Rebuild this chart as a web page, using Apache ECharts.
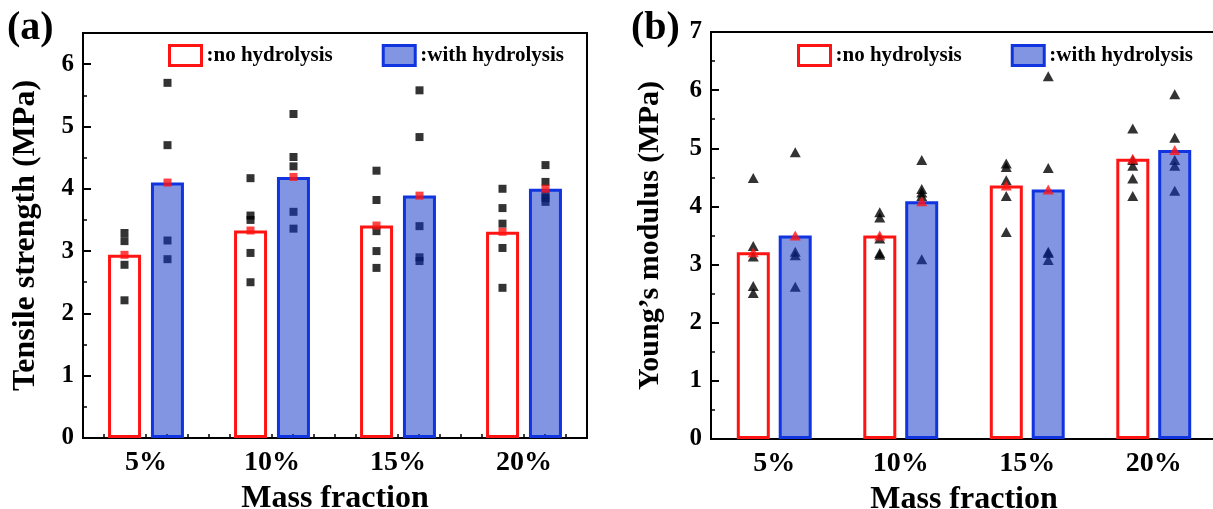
<!DOCTYPE html>
<html>
<head>
<meta charset="utf-8">
<script src="https://cdn.jsdelivr.net/npm/echarts@6/dist/echarts.min.js"></script>
<style>
  html, body { margin: 0; padding: 0; background: #fff; }
  #chart { width: 1213px; height: 509px; }
</style>
</head>
<body>
<div id="chart"></div>
<script>
// Mass fractions on the x axis
const categories = ['5%', '10%', '15%', '20%'];
const legendNames = [':no hydrolysis', ':with hydrolysis'];

// (a) Tensile strength, MPa: bar = mean, points = individual specimens
const tsNo = [2.94, 3.33, 3.41, 3.31];
const tsWith = [4.10, 4.19, 3.89, 4.00];
const tsNoPts = [
  [3.29, 3.16, 2.78, 2.21],
  [4.17, 3.57, 3.50, 2.97, 2.50],
  [4.29, 3.82, 3.32, 3.00, 2.73],
  [4.00, 3.69, 3.44, 3.05, 2.41]
];
const tsWithPts = [
  [5.70, 4.70, 3.17, 2.87],
  [5.20, 4.51, 4.36, 3.63, 3.36],
  [5.58, 4.83, 3.40, 2.90, 2.84],
  [4.38, 4.11, 3.90, 3.85, 3.79]
];

// (b) Young's modulus, MPa
const ymNo = [3.21, 3.50, 4.36, 4.82];
const ymWith = [3.50, 4.09, 4.29, 4.97];
const ymNoPts = [
  [4.49, 3.32, 3.14, 2.63, 2.51],
  [3.90, 3.81, 3.45, 3.20, 3.17],
  [4.74, 4.68, 4.45, 4.18, 3.56],
  [5.34, 4.80, 4.70, 4.48, 4.18]
];
const ymWithPts = [
  [4.93, 3.22, 3.16, 2.62],
  [4.80, 4.30, 4.24, 4.18, 3.09],
  [6.24, 4.66, 3.22, 3.20, 3.08],
  [5.93, 5.18, 4.80, 4.70, 4.27]
];

const FONT = '"Liberation Serif", "Times New Roman", serif';
const RED = '#ff1414';
const BLUE = '#1034e0';
const BLUE_FILL = 'rgba(16, 52, 200, 0.52)';
const BAR_W = 33;
const GAP_A = 10, GAP_B = 9;                  // pixels between paired bars
const OFF_A = (BAR_W + GAP_A) / 2;            // centre of each bar from category centre
const OFF_B = (BAR_W + GAP_B) / 2;

function points(groups) {
  const out = [];
  groups.forEach((g, i) => g.forEach(v => out.push([i, v])));
  return out;
}
function means(values) {
  return values.map((v, i) => [i, v]);
}

const boldText = (size) => ({ fontFamily: FONT, fontWeight: 'bold', fontSize: size, color: '#000' });

function categoryAxis(gridIndex) {
  return {
    type: 'category', gridIndex, data: categories,
    axisLine: { lineStyle: { color: '#000', width: 2 } },
    axisTick: { show: false },
    axisLabel: Object.assign(boldText(28), { margin: 11 }),
    name: 'Mass fraction', nameLocation: 'middle', nameGap: 45,
    nameTextStyle: boldText(32)
  };
}
function valueAxis(gridIndex, max, name, gap, nameSize) {
  return {
    type: 'value', gridIndex, min: 0, max, interval: 1,
    axisLine: { show: true, lineStyle: { color: '#000', width: 2 } },
    axisTick: { show: true, inside: true, length: 8, lineStyle: { color: '#000', width: 2 } },
    minorTick: { show: true, splitNumber: 2, length: 4, lineStyle: { color: '#000', width: 1.5 } },
    splitLine: { show: false },
    axisLabel: Object.assign(boldText(25), {
      margin: 9,
      formatter: v => (Number.isInteger(v) ? String(v) : '')
    }),
    name, nameLocation: 'middle', nameGap: gap,
    nameTextStyle: boldText(nameSize)
  };
}

function panelSeries(xi, yi, noVals, withVals, noPts, withPts, symbol, size, off, gapPct) {
  return [
    {
      type: 'bar', name: legendNames[0], xAxisIndex: xi, yAxisIndex: yi, data: noVals,
      barWidth: BAR_W, barGap: gapPct, z: 1,
      itemStyle: { color: '#ffffff', borderColor: RED, borderWidth: 3 }
    },
    {
      type: 'bar', name: legendNames[1], xAxisIndex: xi, yAxisIndex: yi, data: withVals,
      barWidth: BAR_W, barGap: gapPct, z: 3,
      itemStyle: { color: BLUE_FILL, borderColor: BLUE, borderWidth: 3 }
    },
    {
      type: 'scatter', xAxisIndex: xi, yAxisIndex: yi, data: points(noPts), z: 2,
      symbol, symbolSize: size, symbolOffset: [-off, 0], itemStyle: { color: '#000' }
    },
    {
      type: 'scatter', xAxisIndex: xi, yAxisIndex: yi, data: points(withPts), z: 2,
      symbol, symbolSize: size, symbolOffset: [off, 0], itemStyle: { color: '#000' }
    },
    {
      type: 'scatter', xAxisIndex: xi, yAxisIndex: yi, data: means(noVals), z: 4,
      symbol, symbolSize: size, symbolOffset: [-off, 0], itemStyle: { color: RED }
    },
    {
      type: 'scatter', xAxisIndex: xi, yAxisIndex: yi, data: means(withVals), z: 4,
      symbol, symbolSize: size, symbolOffset: [off, 0], itemStyle: { color: RED }
    }
  ];
}

function legendAt(left) {
  return {
    left, top: 44, padding: 0, data: legendNames, icon: 'rect',
    itemWidth: 32, itemHeight: 20, itemGap: 49, selectedMode: false,
    itemStyle: { borderWidth: 3 },
    textStyle: boldText(21)
  };
}

const chart = echarts.init(document.getElementById('chart'), null, { renderer: 'canvas' });
chart.setOption({
  animation: false,
  backgroundColor: '#fff',
  grid: [
    { left: 83, top: 33, width: 504, height: 405, show: true, borderColor: '#000', borderWidth: 2,
      outerBoundsMode: 'none', containLabel: false },
    { left: 711, top: 32, width: 506, height: 407, show: true, borderColor: '#000', borderWidth: 2,
      outerBoundsMode: 'none', containLabel: false }
  ],
  xAxis: [
    categoryAxis(0),
    {
      // fine ticks along the bottom edge of panel (a)
      type: 'value', gridIndex: 0, min: 0, max: 24, interval: 1, position: 'bottom',
      axisLine: { show: false },
      axisTick: { show: true, inside: true, length: 4, lineStyle: { color: '#000', width: 1.5 } },
      axisLabel: { show: false }, splitLine: { show: false }
    },
    categoryAxis(1)
  ],
  yAxis: [
    valueAxis(0, 6.5, 'Tensile strength (MPa)', 41, 32),
    valueAxis(1, 7, 'Young\u2019s modulus (MPa)', 46, 30)
  ],
  legend: [legendAt(168), legendAt(797)],
  graphic: [
    { type: 'text', left: 7, top: 9, style: { text: '(a)', font: 'bold 40px ' + FONT, fill: '#000' } },
    { type: 'text', left: 631, top: 9, style: { text: '(b)', font: 'bold 40px ' + FONT, fill: '#000' } }
  ],
  series: [].concat(
    panelSeries(0, 0, tsNo, tsWith, tsNoPts, tsWithPts, 'rect', 8, OFF_A, '30%'),
    panelSeries(2, 1, ymNo, ymWith, ymNoPts, ymWithPts, 'triangle', [11, 10], OFF_B, '27%')
  )
});
</script>
</body>
</html>
